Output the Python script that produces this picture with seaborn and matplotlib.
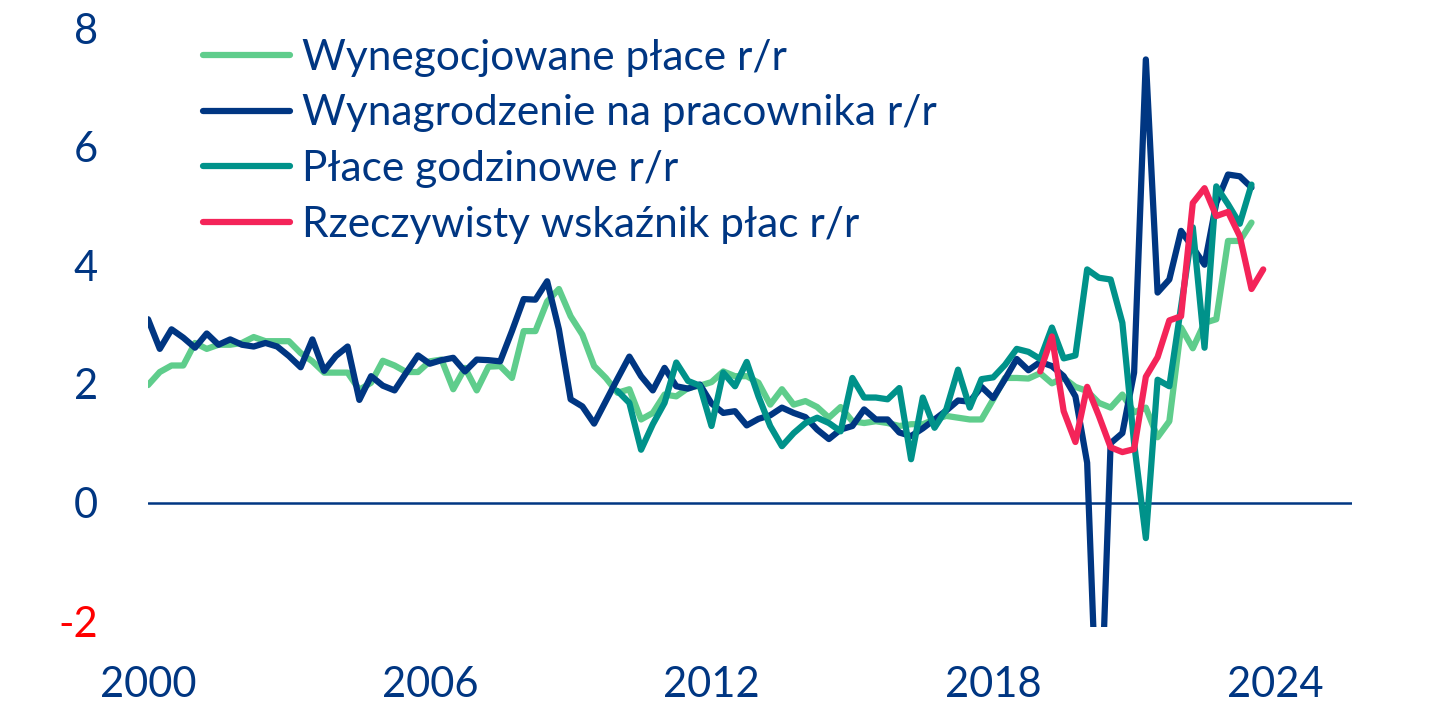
import matplotlib
matplotlib.use("Agg")
import matplotlib.pyplot as plt
import numpy as np
import pandas as pd
import seaborn as sns

# kwartalne dane 2000Q1 - 2023Q4 (96 kwartalow)
kwartaly = [2000 + i / 4 for i in range(96)]

wynegocjowane = [
    1.98, 2.20, 2.31, 2.31, 2.69, 2.59, 2.66, 2.66, 2.69, 2.79, 2.72, 2.72,
    2.72, 2.52, 2.38, 2.19, 2.19, 2.19, 1.90, 2.02, 2.39, 2.31, 2.20, 2.20,
    2.38, 2.41, 1.91, 2.27, 1.89, 2.29, 2.30, 2.10, 2.89, 2.89, 3.39, 3.60,
    3.14, 2.83, 2.30, 2.10, 1.85, 1.91, 1.40, 1.51, 1.82, 1.79, 1.93, 1.97,
    2.03, 2.21, 2.13, 2.13, 2.02, 1.65, 1.91, 1.65, 1.71, 1.61, 1.43, 1.61,
    1.37, 1.34, 1.37, 1.34, 1.29, 1.32, 1.32, 1.40, 1.46, 1.43, 1.40, 1.40,
    1.74, 2.10, 2.10, 2.09, 2.18, 2.01, 2.10, 1.95, 1.88, 1.68, 1.60, 1.82,
    1.52, 1.60, 1.10, 1.37, 2.95, 2.60, 3.03, 3.09, 4.41, 4.41, 4.72, np.nan,
]

wynagrodzenie = [
    3.09, 2.59, 2.92, 2.78, 2.61, 2.85, 2.66, 2.75, 2.66, 2.63, 2.69, 2.63,
    2.47, 2.28, 2.75, 2.22, 2.47, 2.63, 1.73, 2.13, 1.97, 1.89, 2.19, 2.48,
    2.34, 2.40, 2.44, 2.21, 2.41, 2.40, 2.38, 2.89, 3.43, 3.42, 3.73, 2.92,
    1.74, 1.62, 1.33, 1.71, 2.09, 2.46, 2.13, 1.89, 2.27, 1.96, 1.92, 1.99,
    1.67, 1.51, 1.54, 1.30, 1.41, 1.47, 1.60, 1.51, 1.44, 1.23, 1.07, 1.23,
    1.29, 1.57, 1.40, 1.40, 1.18, 1.12, 1.25, 1.40, 1.55, 1.72, 1.70, 1.95,
    1.76, 2.08, 2.42, 2.23, 2.37, 2.30, 2.13, 1.79, 0.67, -4.60, 1.00, 1.17,
    2.19, 7.47, 3.54, 3.76, 4.58, 4.30, 4.01, 5.05, 5.53, 5.50, 5.31, np.nan,
]

godzinowe = [np.nan] * 40 + [
    1.88, 1.68, 0.89, 1.32, 1.68, 2.36, 2.05, 1.97, 1.29, 2.19, 1.96, 2.37,
    1.79, 1.29, 0.95, 1.17, 1.34, 1.43, 1.34, 1.20, 2.10, 1.77, 1.77, 1.74,
    1.93, 0.73, 1.77, 1.26, 1.57, 2.24, 1.60, 2.08, 2.11, 2.32, 2.59, 2.54,
    2.42, 2.95, 2.43, 2.48, 3.93, 3.79, 3.76, 3.03, 1.00, -0.60, 2.07, 1.96,
    3.30, 4.64, 2.61, 5.33, 5.03, 4.70, 5.36, np.nan,
]

rzeczywisty = [np.nan] * 76 + [
    2.21, 2.80, 1.54, 1.02, 1.95, 1.46, 0.93, 0.85, 0.90, 2.12, 2.45, 3.07,
    3.14, 5.05, 5.30, 4.83, 4.90, 4.49, 3.60, 3.93,
]

serie = ["Wynegocjowane płace r/r", "Wynagrodzenie na pracownika r/r",
         "Płace godzinowe r/r", "Rzeczywisty wskaźnik płac r/r"]
kolory = ["#5fcd8c", "#003682", "#00928a", "#f42459"]
granat = "#003682"

df = pd.DataFrame({"rok": kwartaly, serie[0]: wynegocjowane, serie[1]: wynagrodzenie,
                   serie[2]: godzinowe, serie[3]: rzeczywisty})
dl = df.melt(id_vars="rok", var_name="seria", value_name="wartosc").dropna()

sns.set_style("white")
plt.rcParams["font.family"] = ["Lato", "DejaVu Sans"]

fig = plt.figure(figsize=(14.29, 7.15), dpi=100)
ax = fig.add_axes([0.1036, 0.123, 0.8425, 0.8378])

sns.lineplot(data=dl, x="rok", y="wartosc", hue="seria", hue_order=serie,
             palette=dict(zip(serie, kolory)), linewidth=4.5, ax=ax,
             solid_capstyle="round", solid_joinstyle="round", legend=False)

ax.axhline(0, color=granat, linewidth=1.8, zorder=0)

ax.set_xlim(2000, 2025.64)
ax.set_ylim(-2.1, 8)
ax.set_xticks([2000, 2006, 2012, 2018, 2024])
ax.set_yticks([-2, 0, 2, 4, 6, 8])
ax.set_xlabel("")
ax.set_ylabel("")
for s in ax.spines.values():
    s.set_visible(False)
ax.tick_params(axis="x", length=0, pad=28, labelsize=30, labelcolor=granat)
ax.tick_params(axis="y", length=0, pad=36, labelsize=30, labelcolor=granat)
ax.set_yticklabels(["-2", "0", "2", "4", "6", "8"])
ax.get_yticklabels()[0].set_color("#ff0000")

uchwyty = [plt.Line2D([], [], color=k, linewidth=4.5, solid_capstyle="round")
           for k in kolory]
leg = ax.legend(uchwyty, serie, loc="upper left", bbox_to_anchor=(0.142, 0.946),
                bbox_transform=fig.transFigure, frameon=False, fontsize=30.5,
                handlelength=2.05, handletextpad=0.3, labelspacing=0.42,
                borderaxespad=0, borderpad=0)
for t in leg.get_texts():
    t.set_color(granat)

fig.savefig("out.png", dpi=100)
